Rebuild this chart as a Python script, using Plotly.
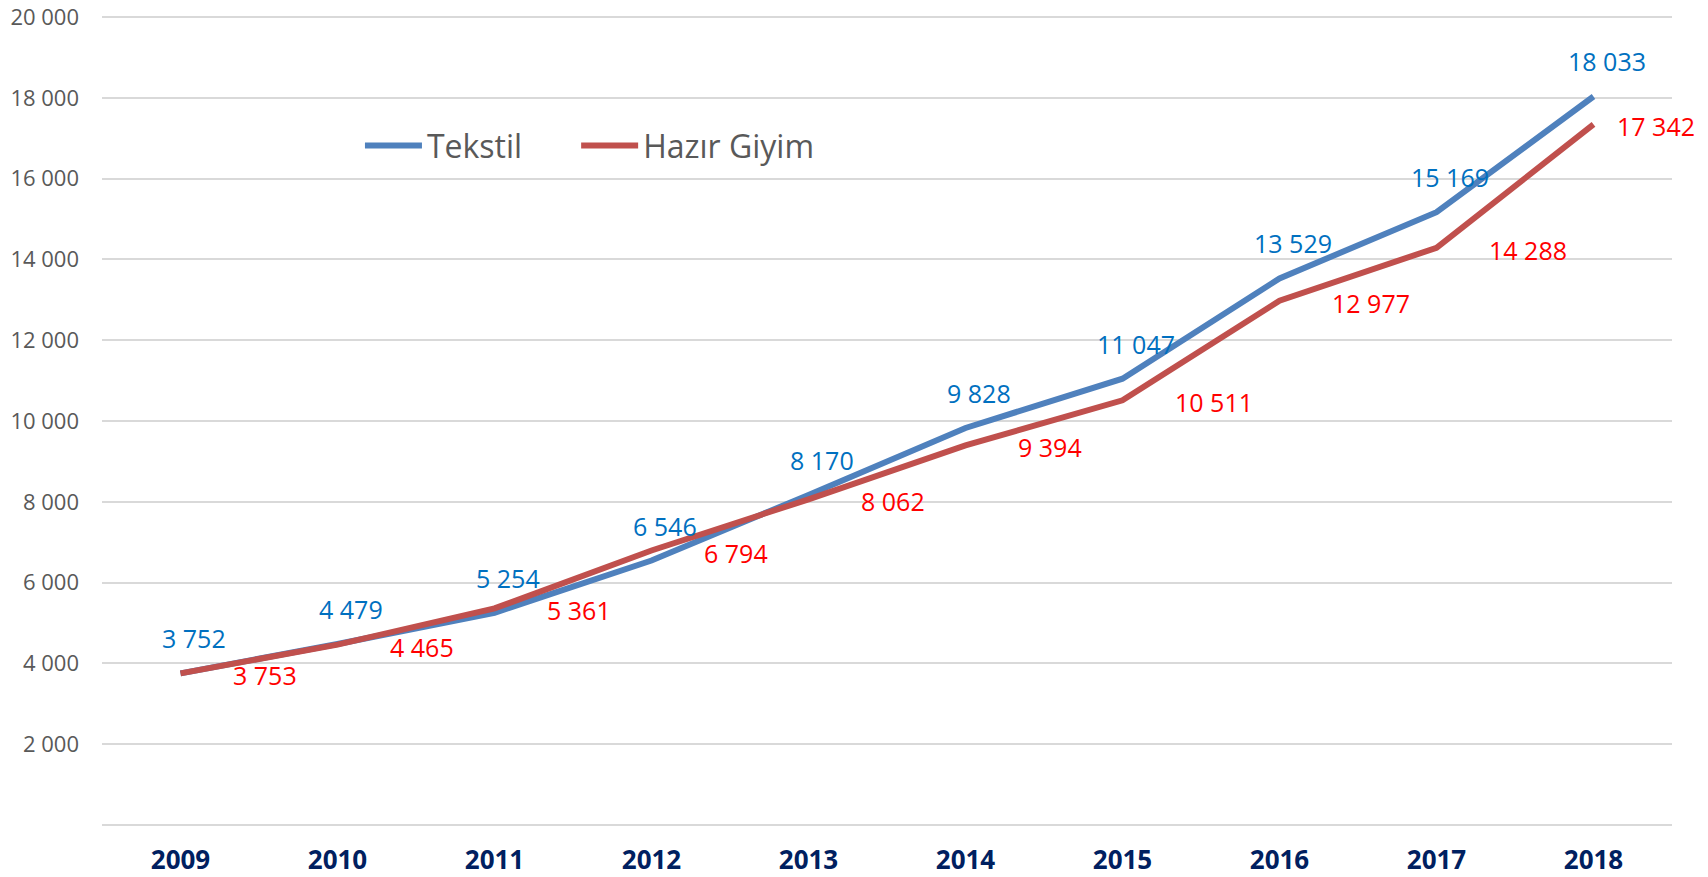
import plotly.graph_objects as go

years = ["2009", "2010", "2011", "2012", "2013", "2014", "2015", "2016", "2017", "2018"]
tekstil = [3752, 4479, 5254, 6546, 8170, 9828, 11047, 13529, 15169, 18033]
hazir_giyim = [3753, 4465, 5361, 6794, 8062, 9394, 10511, 12977, 14288, 17342]
y_ticks = [0, 2000, 4000, 6000, 8000, 10000, 12000, 14000, 16000, 18000, 20000]
y_tick_text = ["", "2 000", "4 000", "6 000", "8 000", "10 000", "12 000", "14 000", "16 000", "18 000", "20 000"]

# label placement (pixel shifts), kept apart from the data
red_label_dx = [50, 50, 50, 50, 50, 50, 50, 50, 50, 21]


def fmt(v):
    return f"{v:,}".replace(",", " ")


FONT = "Open Sans"
BLUE_LINE = "#4F81BD"
RED_LINE = "#C0504D"
BLUE_TXT = "#0070C0"
RED_TXT = "#FF0000"

fig = go.Figure()
fig.add_trace(go.Scatter(x=years, y=tekstil, mode="lines", name="Tekstil",
                         line=dict(color=BLUE_LINE, width=6), legend="legend"))
fig.add_trace(go.Scatter(x=years, y=hazir_giyim, mode="lines", name="Hazır Giyim",
                         line=dict(color=RED_LINE, width=6), legend="legend2"))

for i, v in enumerate(tekstil):
    fig.add_annotation(x=i, y=v, xref="x", yref="y", text=fmt(v), showarrow=False,
                       xanchor="center", yanchor="middle", xshift=13, yshift=35,
                       font=dict(family=FONT, size=25, color=BLUE_TXT))
for i, v in enumerate(hazir_giyim):
    fig.add_annotation(x=i, y=v, xref="x", yref="y", text=fmt(v), showarrow=False,
                       xanchor="left", yanchor="middle", xshift=red_label_dx[i], yshift=-2,
                       font=dict(family=FONT, size=25, color=RED_TXT))

leg_common = dict(orientation="h", xanchor="left", yanchor="middle",
                  font=dict(family=FONT, size=32, color="#595959"),
                  bgcolor="rgba(0,0,0,0)", itemwidth=57)

fig.update_layout(
    width=1708, height=877,
    margin=dict(l=102, r=36, t=15, b=50, autoexpand=False),
    paper_bgcolor="white", plot_bgcolor="white",
    font=dict(family=FONT, color="#595959"),
    showlegend=True,
    legend=dict(x=0.1643, y=0.839, **leg_common),
    legend2=dict(x=0.302, y=0.839, **leg_common),
    xaxis=dict(type="category", range=[-0.5, 9.5], showgrid=False, zeroline=False,
               showline=False, ticks="", ticklabelstandoff=15, automargin=False,
               tickfont=dict(family=FONT, size=26, color="#002060", weight="bold")),
    yaxis=dict(range=[-50, 20050], tickvals=y_ticks, ticktext=y_tick_text,
               showgrid=True, gridcolor="#D9D9D9", gridwidth=1.5, zeroline=False,
               showline=False, ticks="", ticklabelstandoff=22, automargin=False,
               tickfont=dict(family=FONT, size=22, color="#595959")),
)

fig.write_html(
    "out.html",
    config={"displayModeBar": False},
    post_script="document.documentElement.style.margin='0';document.body.style.margin='0';"
                "document.body.style.overflow='hidden';",
)
